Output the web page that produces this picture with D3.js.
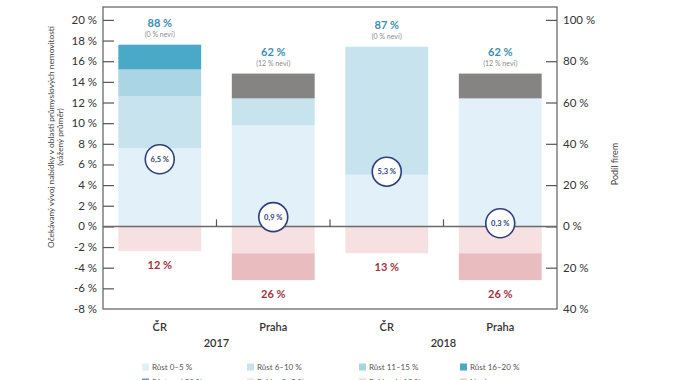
<!DOCTYPE html>
<html><head><meta charset="utf-8">
<script src="https://cdn.jsdelivr.net/npm/d3@7"></script>
<style>
body{margin:0;background:#fff;}
text{font-family:Lato,"Open Sans",sans-serif;}
</style></head>
<body><svg id="c" width="674" height="380"></svg>
<script>
// ---- data ----
const categories = ["ČR 2017","Praha 2017","ČR 2018","Praha 2018"];
const places = ["ČR","Praha","ČR","Praha"];
const years = ["2017","2018"];
const growth0_5 = [38, 49, 25, 62];
const growth6_10 = [25, 13, 62, 0];
const growth11_15 = [13, 0, 0, 0];
const growth16_20 = [12, 0, 0, 0];
const dontKnow = [0, 12, 0, 12];
const decline0_5 = [12, 13, 13, 13];
const decline6_10 = [0, 13, 0, 13];
const growthTotal = [88, 62, 87, 62];
const dontKnowLabel = ["(0 % neví)","(12 % neví)","(0 % neví)","(12 % neví)"];
const declineTotal = [12, 26, 13, 26];
const weightedAvg = [6.5, 0.9, 5.3, 0.3];
const leftTicks = [-6,-4,-2,0,2,4,6,8,10,12,14,16,18,20];
const rightTicks = [-40,-20,0,20,40,60,80,100];
const legendRow1 = ["Růst 0–5 %","Růst 6–10 %","Růst 11–15 %","Růst 16–20 %"];
const legendRow2 = ["Růst nad 20 %","Pokles 0–5 %","Pokles 6–10 %","Neví"];

const posSeries = [growth0_5, growth6_10, growth11_15, growth16_20, dontKnow];
const posColors = ["#e1f0f9","#c6e3ee","#a9d5e5","#4aa9c6","#868383"];
const negSeries = [decline0_5, decline6_10];
const negColors = ["#f6e0e1","#e9bcc0"];

const svg = d3.select("#c");
const L=103, R=557, T=7, B=309;
const yL = d3.scaleLinear().domain([-8, 21.25]).range([B, T]);
const yR = d3.scaleLinear().domain([-40, 106.25]).range([B, T]);
const x = d3.scaleBand().domain(categories).range([L, R]).paddingInner(0.27).paddingOuter(0.135);
const xg = d3.scaleBand().domain(years).range([L, R]);

// bars
categories.forEach((c,i)=>{
  let acc=0;
  posSeries.forEach((s,k)=>{
    const v=s[i]; if(!v) return;
    svg.append("rect").attr("x",x(c)).attr("width",x.bandwidth())
      .attr("y",yR(acc+v)).attr("height",yR(acc)-yR(acc+v)).attr("fill",posColors[k]);
    acc+=v;
  });
  let nacc=0;
  negSeries.forEach((s,k)=>{
    const v=s[i]; if(!v) return;
    svg.append("rect").attr("x",x(c)).attr("width",x.bandwidth())
      .attr("y",yR(-nacc)).attr("height",yR(-nacc-v)-yR(-nacc)).attr("fill",negColors[k]);
    nacc+=v;
  });
  const cx=x(c)+x.bandwidth()/2;
  svg.append("text").attr("x",cx).attr("y",yR(acc)-18).attr("text-anchor","middle")
    .attr("font-size",11).attr("font-weight",700).attr("fill","#3b8eb1").text(growthTotal[i]+" %");
  svg.append("text").attr("x",cx).attr("y",yR(acc)-8).attr("text-anchor","middle")
    .attr("font-size",7).attr("fill","#8a8a8a").text(dontKnowLabel[i]);
  svg.append("text").attr("x",cx).attr("y",yR(-nacc)+18).attr("text-anchor","middle")
    .attr("font-size",11).attr("font-weight",700).attr("fill","#a3343f").text(declineTotal[i]+" %");
});

// frame
svg.append("rect").attr("x",L).attr("y",T).attr("width",R-L).attr("height",B-T)
  .attr("fill","none").attr("stroke","#6a6a6a").attr("stroke-width",1.3);

// left axis
const axL = svg.append("g").attr("transform",`translate(${L},0)`)
  .call(d3.axisRight(yL).tickValues(leftTicks).tickSize(11).tickFormat(""));
axL.select(".domain").remove();
axL.selectAll("line").attr("stroke","#555").attr("stroke-width",1.2);
leftTicks.concat([-8]).forEach(t=>{
  svg.append("text").attr("x",97).attr("y",yL(t)).attr("dy","0.35em").attr("text-anchor","end")
    .attr("font-size",11.5).attr("fill","#333").text(t+" %");
});

// right axis
const axR = svg.append("g").attr("transform",`translate(${R},0)`)
  .call(d3.axisLeft(yR).tickValues(rightTicks.filter(t=>t>-40)).tickSize(11).tickFormat(""));
axR.select(".domain").remove();
axR.selectAll("line").attr("stroke","#555").attr("stroke-width",1.2);
rightTicks.forEach(t=>{
  svg.append("text").attr("x",563).attr("y",yR(t)).attr("dy","0.35em").attr("text-anchor","start")
    .attr("font-size",11.5).attr("fill","#333").text(Math.abs(t)+" %");
});

// zero line + separators
svg.append("line").attr("x1",L).attr("x2",R).attr("y1",yL(0)).attr("y2",yL(0))
  .attr("stroke","#6a6a6a").attr("stroke-width",1.5);
categories.slice(1).forEach(c=>{
  const sx = x(c) - x.step()*x.paddingInner()/2;
  svg.append("line").attr("x1",sx).attr("x2",sx).attr("y1",yL(0)).attr("y2",yL(0)-7)
    .attr("stroke","#555").attr("stroke-width",1.2);
});

// weighted average circles
categories.forEach((c,i)=>{
  const cx=x(c)+x.bandwidth()/2, cy=yL(weightedAvg[i]);
  svg.append("circle").attr("cx",cx).attr("cy",cy).attr("r",14.5)
    .attr("fill","#fff").attr("stroke","#2e3f7c").attr("stroke-width",1.6);
  svg.append("text").attr("x",cx).attr("y",cy).attr("dy","0.35em").attr("text-anchor","middle")
    .attr("font-size",7.5).attr("font-weight",700).attr("fill","#2e3f7c")
    .text(String(weightedAvg[i]).replace(".",",")+" %");
});

// x labels
categories.forEach((c,i)=>{
  svg.append("text").attr("x",x(c)+x.bandwidth()/2).attr("y",327).attr("dy","0.35em")
    .attr("text-anchor","middle").attr("font-size",11).attr("font-weight",600).attr("fill","#333").text(places[i]);
});
years.forEach(y=>{
  svg.append("text").attr("x",xg(y)+xg.bandwidth()/2).attr("y",343.5).attr("dy","0.35em")
    .attr("text-anchor","middle").attr("font-size",11).attr("font-weight",600).attr("fill","#333").text(y);
});

// axis titles
const yt = svg.append("text").attr("transform","translate(54,137) rotate(-90)")
  .attr("text-anchor","middle").attr("font-size",8.3).attr("fill","#444");
yt.append("tspan").attr("x",0).attr("dy",0).text("Očekávaný vývoj nabídky v oblasti průmyslových nemovitostí");
yt.append("tspan").attr("x",0).attr("dy",8.5).text("(vážený průměr)");
svg.append("text").attr("transform","translate(618,164) rotate(-90)")
  .attr("text-anchor","middle").attr("font-size",9).attr("fill","#444").text("Podíl firem");

// legend
const legX = [142, 247, 359, 460];
const legC1 = [posColors[0], posColors[1], posColors[2], posColors[3]];
const legC2 = ["#5a9fc8", negColors[0], "#f3d4d6", "#f0cfd2"];
legendRow1.forEach((t,i)=>{
  svg.append("rect").attr("x",legX[i]).attr("y",363.5).attr("width",7).attr("height",7).attr("fill",legC1[i]);
  svg.append("text").attr("x",legX[i]+10).attr("y",367).attr("dy","0.35em").attr("font-size",8)
    .attr("fill","#555").text(t);
});
legendRow2.forEach((t,i)=>{
  svg.append("rect").attr("x",legX[i]).attr("y",378.5).attr("width",7).attr("height",7).attr("fill",legC2[i]);
  svg.append("text").attr("x",legX[i]+10).attr("y",382).attr("dy","0.35em").attr("font-size",8)
    .attr("fill","#555").text(t);
});
</script></body></html>
